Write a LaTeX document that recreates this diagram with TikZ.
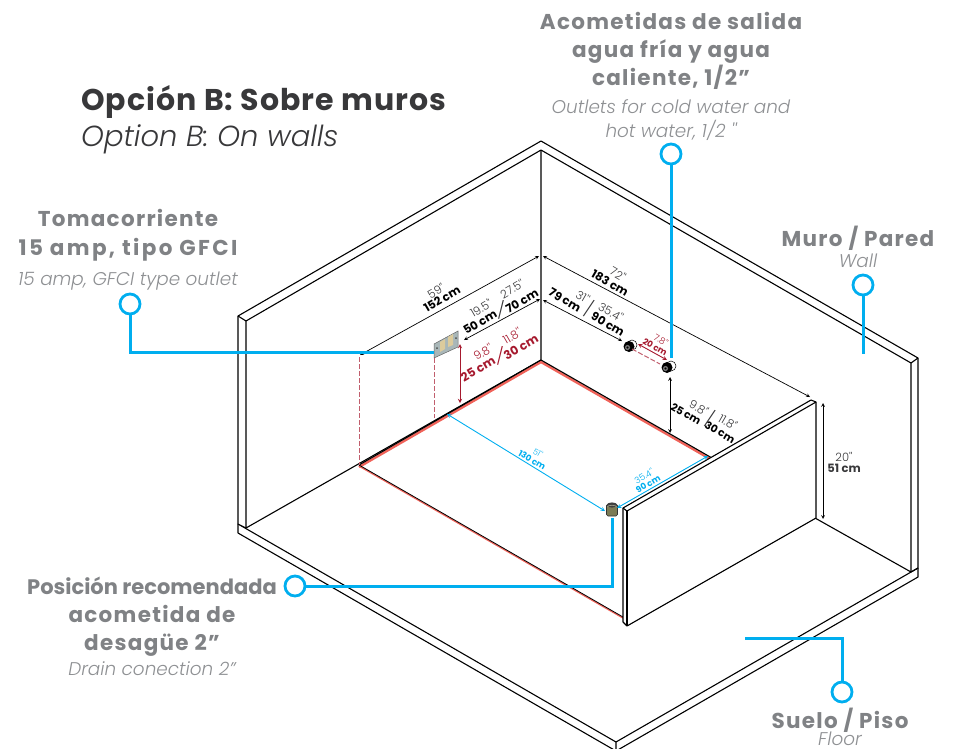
\documentclass[tikz,border=0pt]{standalone}
\usepackage{fontspec}
\setmainfont{Poppins}
\newfontfamily\headfont[LetterSpace=6]{Poppins}
\newfontfamily\headwide[LetterSpace=11]{Poppins}
\newfontfamily\titlefont[LetterSpace=3.5]{Poppins}
\newfontfamily\softfont{Poppins Light}
\definecolor{callblue}{HTML}{00AEEF}
\definecolor{headgray}{HTML}{808285}
\definecolor{titlegray}{HTML}{38383A}
\definecolor{softgray}{HTML}{8E9093}
\definecolor{darkred}{HTML}{A6192E}
\definecolor{softred}{HTML}{F0635A}
\definecolor{drainolive}{HTML}{7C7B55}
\definecolor{platecolor}{HTML}{A9B7B8}
\definecolor{platebeige}{HTML}{DCCB9C}
\tikzset{
  wall/.style={black, line width=1.1pt, line join=round},
  callline/.style={callblue, line width=3pt},
  callout/.style={circle, draw=callblue, line width=2.8pt, fill=white, minimum size=20pt, inner sep=0pt},
  dimline/.style={<->, >=stealth, black, line width=0.7pt},
  reddim/.style={<->, >=stealth, darkred, line width=0.9pt},
  bluedim/.style={<->, >=stealth, callblue, line width=0.9pt},
  reddash/.style={darkred!70, dash pattern=on 5pt off 2pt, line width=1pt},
  headtext/.style={anchor=base, font=\fontsize{21.5}{21.5}\headfont\bfseries, text=headgray, inner sep=0pt},
  subtext/.style={anchor=base, font=\fontsize{18.4}{18.4}\softfont\itshape, text=softgray, inner sep=0pt},
  dimbold/.style={font=\fontsize{11.5}{11.5}\selectfont\bfseries, text=black, inner sep=0pt},
  dimsoft/.style={font=\fontsize{11.5}{11.5}\softfont, text=titlegray, inner sep=0pt},
  dimslash/.style={font=\fontsize{17}{17}\softfont, text=titlegray, inner sep=0pt},
  fitting/.style={circle, fill=black, minimum size=11pt, inner sep=0pt}
}
\begin{document}
\begin{tikzpicture}[x=1pt, y=-1pt]
  \useasboundingbox (0,0) rectangle (954,748);

  % floor slab
  \draw[wall] (246,528) -- (238,524) -- (616,742) -- (918,568);
  \draw[wall] (238,524) -- (238,533) -- (616,751);
  \draw[wall] (616,742) -- (616,751) -- (918,577) -- (918,568);

  % walls
  \draw[wall] (238,524) -- (238,316) -- (541,141) -- (918,358) -- (918,568);
  \draw[wall] (238,316) -- (246,321) -- (541,150) -- (911,363) -- (911,572);
  \draw[wall] (246,321) -- (246,528) -- (541,360) -- (541,150);
  \draw[wall] (911,363) -- (918,358);
  \draw[wall] (911,572) -- (918,568);

  % footprint on the floor
  \draw[softred, line width=2.4pt] (359,467) -- (541,362) -- (712,460);
  \draw[softred, line width=1.4pt] (359,466) -- (623,618);
  \draw[wall] (359,465) -- (541,360) -- (712,458);
  \draw[black, line width=0.8pt] (359,465) -- (623,617);
  \draw[black, dashed, line width=0.7pt] (712,458) -- (815,518);
  \draw[wall] (815,518) -- (911,572);

  % half wall
  \draw[wall, fill=white] (623,508) -- (811,400) -- (816,402) -- (816,518) -- (627,626) -- (623,622) -- cycle;
  \draw[wall] (816,402) -- (627,511) -- (623,508);
  \draw[wall] (627,511) -- (627,626);

  % socket
  \draw[black!60, line width=0.5pt, fill=platecolor] (434,344) -- (458,331) -- (458,347) -- (434,358) -- cycle;
  \fill[platebeige] (440,342) -- (445,339) -- (445,349) -- (440,352) -- cycle;
  \fill[platebeige] (448,337) -- (453,334) -- (453,345) -- (448,347) -- cycle;
  \fill[black!70] (437,348) circle (1) (456,338) circle (1);

  % outlets and drain
  \draw[black, fill=white, line width=0.5pt] (632,345) circle (5);
  \draw[black, fill=white, line width=0.5pt] (671,366) circle (5);
  \node[fitting] (coldpipe) at (629,346.500) {};
  \node[fitting] (hotpipe) at (667,367.500) {};
  \fill[black!55] (627.500,347.500) circle (2.6);
  \fill[black!55] (665.500,368.500) circle (2.6);
  \fill[black] (627.500,347.500) circle (1.2);
  \fill[black] (665.500,368.500) circle (1.2);
  \draw[black!80, fill=drainolive, line width=0.6pt, rounded corners=1.5pt] (606.500,504) -- (606.500,516) -- (617.500,516) -- (617.500,504) -- cycle;
  \fill[black!75] (612,505) ellipse (5.2 and 2.6);
  \draw[drainolive!60!white, line width=0.5pt] (607.500,507) arc[start angle=180, end angle=360, x radius=4.5, y radius=1.8];
  \node[inner sep=0pt, minimum size=1pt] (drain) at (612,517) {};

  % dimension lines, black
  \coordinate (topa) at (360,355);
  \coordinate (topb) at (539,256);
  \coordinate (loa) at (464,340);
  \coordinate (lob) at (540,299);
  \coordinate (righta) at (543,256);
  \coordinate (rightb) at (810,397);
  \coordinate (pipea) at (543,300);
  \coordinate (pipeb) at (622,341);
  \coordinate (heighta) at (670,377);
  \coordinate (heightb) at (670,433);
  \coordinate (wallhia) at (823,403);
  \coordinate (wallhib) at (823,519);
  \draw[dimline] (topa) -- (topb);
  \draw[dimline] (loa) -- (lob);
  \draw[dimline] (righta) -- (rightb);
  \draw[dimline] (pipea) -- (pipeb);
  \draw[dimline] (heighta) -- (heightb);
  \draw[dimline] (wallhia) -- (wallhib);

  % dimension lines, red
  \coordinate (socka) at (460,344);
  \coordinate (sockb) at (460,403);
  \coordinate (gapa) at (638,344);
  \coordinate (gapb) at (667,360);
  \draw[reddim] (socka) -- (sockb);
  \draw[reddim] (gapa) -- (gapb);
  \draw[reddash] (434,358) -- (434,418);
  \draw[reddash] (359,357) -- (359,465);
  \draw[reddash] (632,349) -- (660,364);

  % dimension lines, blue
  \coordinate (drainlefta) at (447,414);
  \coordinate (drainleftb) at (605,511);
  \coordinate (drainrighta) at (708,456);
  \coordinate (drainrightb) at (617,508);
  \draw[bluedim] (drainlefta) -- (drainleftb);
  \draw[bluedim] (drainrighta) -- (drainrightb);

  % callouts
  \node[callout] (callgfci) at (130,304) {};
  \node[callout] (callpipes) at (671,154) {};
  \node[callout] (callwall) at (863,285) {};
  \node[callout] (calldrain) at (295,586) {};
  \node[callout] (callfloor) at (842,692) {};
  \coordinate (gfcibend) at (130,352);
  \coordinate (gfciend) at (434,352);
  \coordinate (pipesend) at (671,358);
  \coordinate (wallend) at (863,354);
  \coordinate (drainbend) at (612,586);
  \coordinate (floorbend) at (842,638);
  \coordinate (floorend) at (745,638);
  \draw[callline] (callgfci) -- (gfcibend) -- (gfciend);
  \draw[callline] (callpipes) -- (pipesend);
  \draw[callline] (callwall) -- (wallend);
  \draw[callline] (calldrain) -- (drainbend) -- (drain);
  \draw[callline] (callfloor) -- (floorbend) -- (floorend);

  % dimension texts
  \node[dimsoft, rotate=30] at (436,291) {59''};
  \node[dimbold, rotate=30] at (442,299) {152 cm};
  \node[dimsoft, rotate=30] at (481,308) {19.5''};
  \node[dimbold, rotate=30] at (480,322) {50 cm};
  \node[dimsoft, rotate=30] at (512,289) {27.5''};
  \node[dimbold, rotate=30] at (522,301) {70 cm};
  \node[dimslash] at (501,310) {/};
  \node[dimsoft, rotate=30, text=darkred] at (483,352) {9.8''};
  \node[dimbold, rotate=30, text=darkred, font=\fontsize{12}{12}\selectfont\bfseries] at (478,369) {25 cm};
  \node[dimsoft, rotate=30, text=darkred] at (512,336) {11.8''};
  \node[dimbold, rotate=30, text=darkred, font=\fontsize{12}{12}\selectfont\bfseries] at (521,347) {30 cm};
  \node[dimslash, text=darkred] at (500,356) {/};
  \node[dimsoft, rotate=-30] at (618,274) {72''};
  \node[dimbold, rotate=-30] at (610,283) {183 cm};
  \node[dimsoft, rotate=-30] at (583,297) {31''};
  \node[dimbold, rotate=-30] at (565,300) {79 cm};
  \node[dimsoft, rotate=-30] at (611,312) {35.4''};
  \node[dimbold, rotate=-30] at (608,324) {90 cm};
  \node[dimslash, rotate=-20] at (589,309) {/};
  \node[dimsoft, rotate=-30, text=darkred, font=\fontsize{9}{9}\softfont] at (661,340) {7.8''};
  \node[dimbold, rotate=-30, text=darkred, font=\fontsize{8.500}{8.500}\selectfont\bfseries] at (655,347) {20 cm};
  \node[dimsoft, rotate=-30] at (699,408) {9.8''};
  \node[dimbold, rotate=-30, font=\fontsize{10.500}{10.500}\selectfont\bfseries] at (686,414) {25 cm};
  \node[dimsoft, rotate=-30] at (728,422) {11.8''};
  \node[dimbold, rotate=-30, font=\fontsize{10.500}{10.500}\selectfont\bfseries] at (720,432) {30 cm};
  \node[dimslash, rotate=-20] at (710,419) {/};
  \node[dimsoft, rotate=-30, text=callblue, font=\fontsize{8}{8}\softfont] at (538,453) {51''};
  \node[dimbold, rotate=-30, text=callblue, font=\fontsize{8.500}{8.500}\selectfont\bfseries] at (532,460) {130 cm};
  \node[dimsoft, rotate=30, text=callblue, font=\fontsize{9}{9}\softfont] at (644,476) {35.4''};
  \node[dimbold, rotate=30, text=callblue, font=\fontsize{8.500}{8.500}\selectfont\bfseries] at (648,484) {90 cm};
  \node[dimsoft] at (844,457) {20''};
  \node[dimbold, text=titlegray] at (844,468) {51 cm};

  % titles
  \node[anchor=base west, inner sep=0pt, text=titlegray, font=\fontsize{30}{30}\titlefont\bfseries] (title) at (81,110) {Opción B: Sobre muros};
  \node[anchor=base west, inner sep=0pt, text=titlegray, font=\fontsize{29}{29}\softfont\itshape] (subtitle) at (81,146) {Option B: On walls};

  \node[headtext] at (671,29) {Acometidas de salida};
  \node[headtext] at (671,57) {agua fría y agua};
  \node[headtext] at (671,85) {caliente, 1/2”};
  \node[subtext] at (671,113) {Outlets for cold water and};
  \node[subtext] at (671,137) {hot water, 1/2 ''};

  \node[headtext] at (128,226) {Tomacorriente};
  \node[headtext, font=\fontsize{21.5}{21.5}\headwide\bfseries] at (128,255) {15 amp, tipo GFCI};
  \node[subtext] at (128,285) {15 amp, GFCI type outlet};

  \node[headtext] at (858,246) {Muro / Pared};
  \node[subtext] at (858,267) {Wall};

  \node[headtext, font=\fontsize{21}{21}\selectfont\bfseries] at (152,594) {Posición recomendada};
  \node[headtext] at (152,622) {acometida de};
  \node[headtext] at (152,650) {desagüe 2”};
  \node[subtext] at (152,675) {Drain conection 2”};

  \node[headtext] at (840,728) {Suelo / Piso};
  \node[subtext] at (840,745) {Floor};
\end{tikzpicture}
\end{document}
